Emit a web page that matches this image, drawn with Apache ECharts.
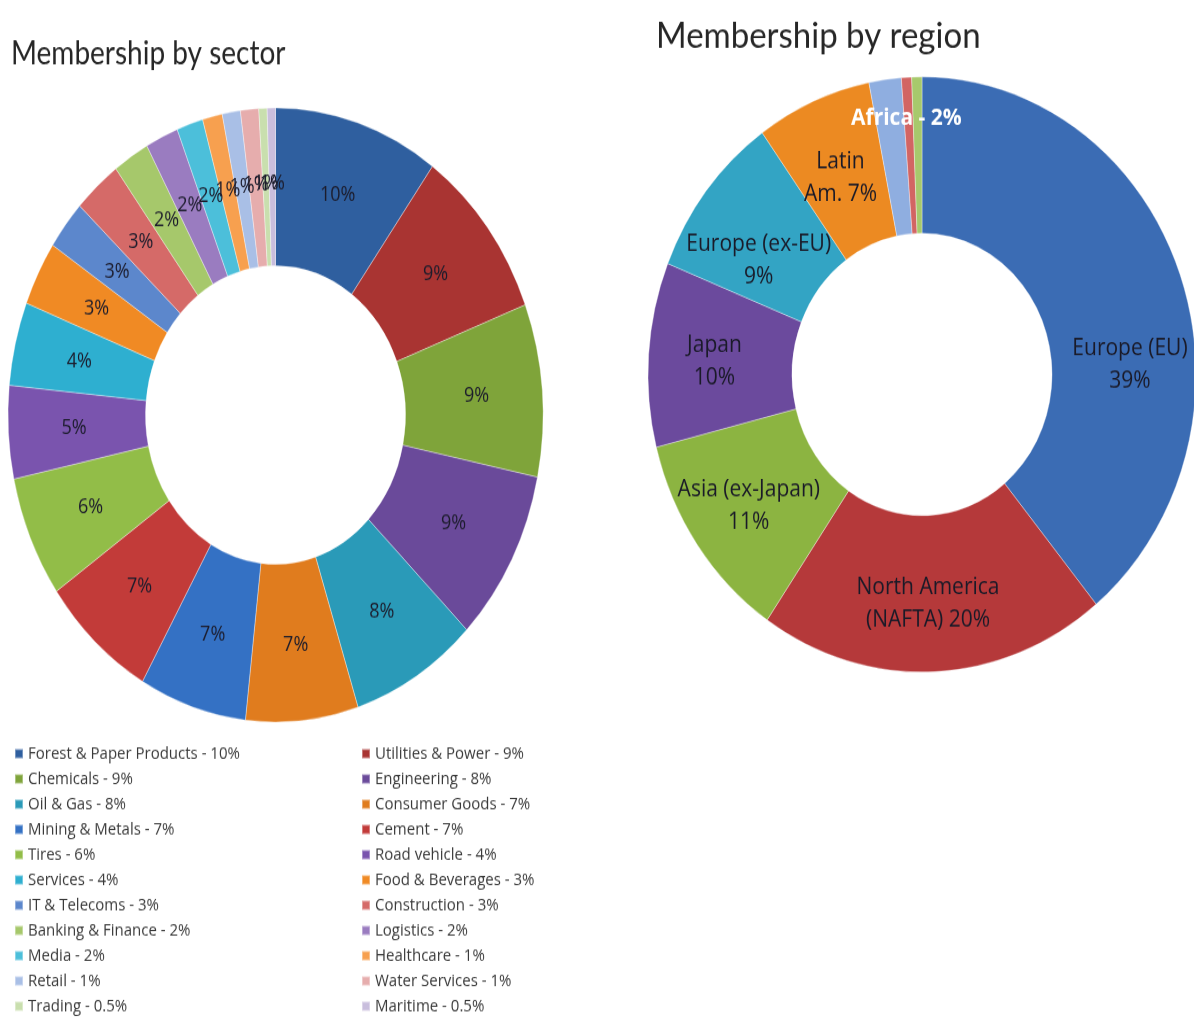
<!doctype html>
<html lang="en">
<head>
<meta charset="UTF-8">
<title>Membership</title>
<script src="https://cdn.jsdelivr.net/npm/echarts@6/dist/echarts.min.js"></script>
<style>
    body { margin: 0; background: #fff; overflow: hidden; }
    #sector { position: absolute; left: 0; top: 0; width: 600px; height: 905px; transform: scaleY(1.148); transform-origin: 0 0; }
    #region { position: absolute; left: 600px; top: 0; width: 594px; height: 937px; transform: scaleY(1.086); transform-origin: 0 0; }
</style>
</head>
<body>
<div id="sector"></div>
<div id="region"></div>
<script>
// sectors, clockwise from 12 o'clock
var sectorNames = ['Forest & Paper Products', 'Utilities & Power', 'Chemicals', 'Engineering', 'Oil & Gas',
    'Consumer Goods', 'Mining & Metals', 'Cement', 'Tires', 'Road vehicle', 'Services', 'Food & Beverages',
    'IT & Telecoms', 'Construction', 'Banking & Finance', 'Logistics', 'Media', 'Healthcare', 'Retail',
    'Water Services', 'Trading', 'Maritime'];
var sectorValues = [10, 9.2, 9.1, 9.1, 7.7, 6.8, 6.5, 7.0, 6.4, 4.9, 4.4, 3.4, 2.6, 2.9, 2.2, 2.0, 1.6, 1.2, 1.1, 1.1, 0.5, 0.5];
var sectorLegendPct = ['10%', '9%', '9%', '8%', '8%', '7%', '7%', '7%', '6%', '4%', '4%', '3%', '3%', '3%',
    '2%', '2%', '2%', '1%', '1%', '1%', '0.5%', '0.5%'];
var sectorColors = ['#2f5f9f', '#a93432', '#7fa43a', '#6a4a9a', '#2a9ab8', '#e07c1e', '#3471c4', '#c23b39',
    '#92bd48', '#7a54ae', '#2eafd0', '#f08a24', '#5c87cc', '#d56a68', '#a6c86b', '#9a7cc0', '#4cbfda',
    '#f7a04f', '#a9bfe6', '#e6adad', '#c9dfae', '#c9bedd'];

// regions, clockwise from 12 o'clock
var regionNames = ['Europe (EU)', 'North America (NAFTA)', 'Asia (ex-Japan)', 'Japan', 'Europe (ex-EU)',
    'Latin Am.', 'Africa', 'Middle East', 'Oceania'];
var regionValues = [39, 20.5, 11.5, 10, 9, 6.8, 1.9, 0.6, 0.6];
var regionLabels = ['Europe (EU)\n39%', 'North America\n(NAFTA) 20%', 'Asia (ex-Japan)\n11%', 'Japan\n10%',
    'Europe (ex-EU)\n9%', 'Latin\nAm. 7%', 'Africa - 2%', '', ''];
var regionColors = ['#3b6cb4', '#b5393a', '#8cb441', '#6b4a9d', '#33a4c4', '#ec8a22', '#8faee0', '#d26563', '#a7c96c'];

var sectorData = sectorNames.map(function (n, i) {
    return { name: n, value: sectorValues[i], itemStyle: { color: sectorColors[i] } };
});
var leftCol = sectorNames.filter(function (n, i) { return i % 2 === 0; });
var rightCol = sectorNames.filter(function (n, i) { return i % 2 === 1; });

var legendBase = {
    orient: 'vertical',
    top: 644,
    height: 260,
    icon: 'rect',
    itemWidth: 8,
    itemHeight: 8,
    itemGap: 7,
    selectedMode: false,
    textStyle: { fontFamily: 'Open Sans', fontSize: 15, lineHeight: 15, color: '#3a3a3a' },
    formatter: function (name) {
        return name + ' - ' + sectorLegendPct[sectorNames.indexOf(name)];
    }
};

var chartA = echarts.init(document.getElementById('sector'));
chartA.setOption({
    animation: false,
    title: {
        text: 'Membership by sector',
        left: 6,
        top: 28,
        textStyle: { fontFamily: 'Lato', fontSize: 28, fontWeight: 'normal', color: '#262626' }
    },
    legend: [
        Object.assign({}, legendBase, { left: 9, data: leftCol }),
        Object.assign({}, legendBase, { left: 356, data: rightCol })
    ],
    series: [{
        type: 'pie',
        center: [275.5, 361.5],
        radius: [130, 267.5],
        startAngle: 90,
        emphasis: { disabled: true },
        itemStyle: { borderColor: 'rgba(255,255,255,0.35)', borderWidth: 1 },
        label: {
            position: 'inside',
            fontFamily: 'Open Sans',
            fontSize: 18,
            color: '#1c1c2c',
            formatter: function (p) { return Math.round(p.value) + '%'; }
        },
        labelLine: { show: false },
        labelLayout: { hideOverlap: false },
        data: sectorData
    }]
});

// nudges so the region labels sit where the original put them
var regionShift = [[15, 60], [-3, 6], [-5, 4], [-3, 2], [-2, 22], [0, 7], [12, -33], [0, 0], [0, 0]];

var regionData = regionNames.map(function (n, i) {
    var d = { name: n, value: regionValues[i], itemStyle: { color: regionColors[i] } };
    if (n === 'Africa') {
        d.label = { color: '#ffffff', fontWeight: 'bold' };
    }
    return d;
});

var chartB = echarts.init(document.getElementById('region'));
chartB.setOption({
    animation: false,
    title: {
        text: 'Membership by region',
        left: 51,
        top: 12,
        textStyle: { fontFamily: 'Lato', fontSize: 33, fontWeight: 'normal', color: '#262626' }
    },
    series: [{
        type: 'pie',
        center: [322, 344.8],
        radius: [130, 274],
        startAngle: 90,
        emphasis: { disabled: true },
        itemStyle: { borderColor: 'rgba(255,255,255,0.35)', borderWidth: 1 },
        label: {
            position: 'inside',
            fontFamily: 'Open Sans',
            fontSize: 21,
            lineHeight: 30,
            color: '#1a1a28',
            formatter: function (p) { return regionLabels[p.dataIndex]; }
        },
        labelLine: { show: false },
        labelLayout: function (p) {
            var s = regionShift[p.dataIndex];
            return { dx: s[0], dy: s[1], hideOverlap: false };
        },
        data: regionData
    }]
});
</script>
</body>
</html>
